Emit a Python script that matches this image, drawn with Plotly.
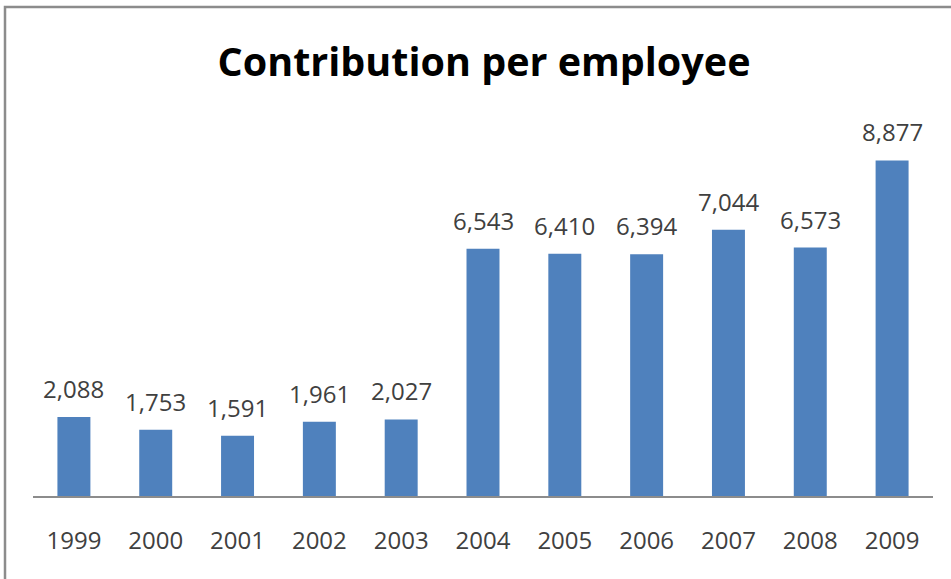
import plotly.graph_objects as go

years = ["1999", "2000", "2001", "2002", "2003", "2004", "2005", "2006", "2007", "2008", "2009"]
contribution = [2088, 1753, 1591, 1961, 2027, 6543, 6410, 6394, 7044, 6573, 8877]

BAR_COLOR = "#4F81BD"
TEXT_COLOR = "#404040"
FONT = "Open Sans"

fig = go.Figure()
fig.add_trace(go.Bar(
    x=years,
    y=contribution,
    marker=dict(color=BAR_COLOR, line=dict(width=0)),
    hoverinfo="x+y",
))

# value labels above each bar (category axis: positions by index)
for i, val in enumerate(contribution):
    fig.add_annotation(
        x=i, y=val, text=f"{val:,}",
        showarrow=False, yanchor="bottom", yshift=10,
        font=dict(family=FONT, size=24, color=TEXT_COLOR),
    )

fig.update_layout(
    width=951, height=579,
    margin=dict(l=33, r=18, t=118, b=83),
    paper_bgcolor="white", plot_bgcolor="white",
    showlegend=False,
    bargap=0.597,
    title=dict(
        text="<b>Contribution per employee</b>",
        x=0.509, xanchor="center", y=1 - 62 / 579, yanchor="middle",
        font=dict(family=FONT, size=39.5, color="black"),
    ),
    xaxis=dict(
        type="category", range=[-0.5, len(years) - 0.5],
        showline=True, linecolor="#8C8C8C", linewidth=1.5,
        ticks="", showgrid=False, zeroline=False,
        tickfont=dict(family=FONT, size=24, color=TEXT_COLOR),
        ticklabelstandoff=22,
    ),
    yaxis=dict(
        range=[0, 10000], visible=False, showgrid=False, zeroline=False,
    ),
    # chart frame: only its top and left edges fall inside the page
    shapes=[dict(
        type="rect", xref="paper", yref="paper",
        x0=-28 / 900, x1=1.2, y0=-0.5, y1=(496 - 7) / 378,
        line=dict(color="#8C8C8C", width=2.5), fillcolor="rgba(0,0,0,0)",
        layer="above",
    )],
)

fig.write_html("out.html")
